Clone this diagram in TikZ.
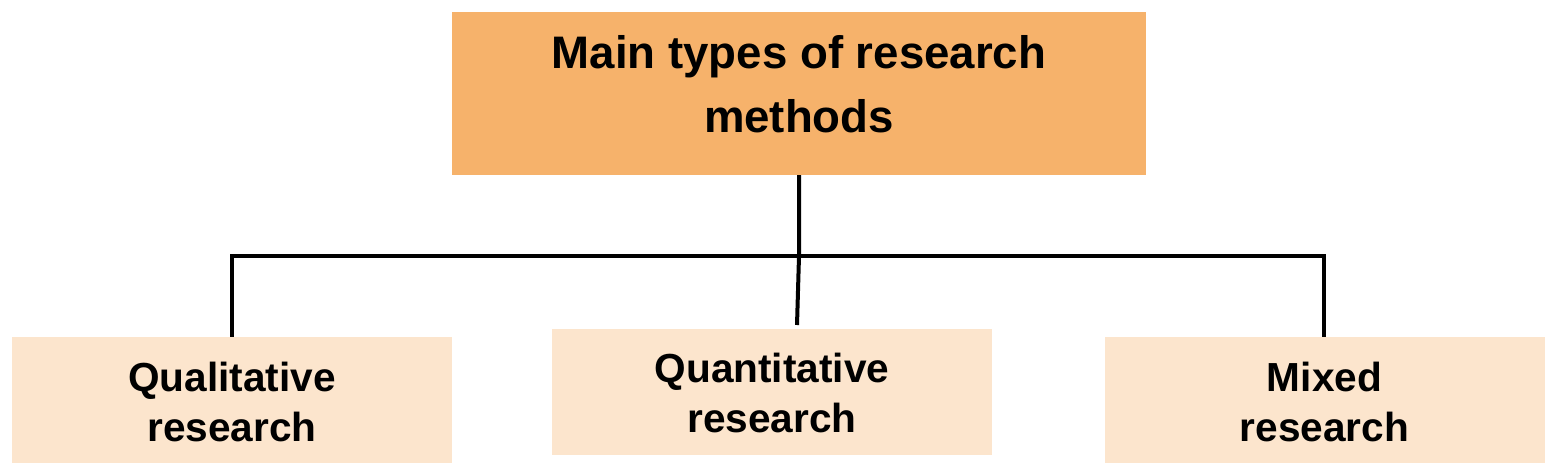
\documentclass[tikz,border=0pt]{standalone}
\usepackage{fontspec}
\setmainfont{Liberation Sans}
\definecolor{topfill}{HTML}{F6B26B}
\definecolor{subfill}{HTML}{FCE5CD}
\begin{document}
\begin{tikzpicture}[x=1pt,y=-1pt,
  topbox/.style={fill=topfill, minimum width=694pt, minimum height=163pt, inner sep=0pt},
  toptext/.style={inner sep=0pt, align=center, font=\fontsize{45.6}{64}\selectfont\bfseries},
  subbox/.style={fill=subfill, minimum width=440pt, minimum height=126pt, inner sep=0pt},
  subtext/.style={inner sep=0pt, align=center, font=\fontsize{40.6}{50}\selectfont\bfseries},
  link/.style={line width=4pt}]
\useasboundingbox (0,0) rectangle (1557,476);
\node[topbox] (top) at (799,93.5) {};
\node[toptext] (toptitle) at ([yshift=9pt]top.center) {Main types of research\\methods};
\node[subbox] (qual) at (232,400) {};
\node[subtext] (qualt) at ([yshift=-2pt]qual.center) {Qualitative\\research};
\node[subbox] (quant) at (772,391.5) {};
\node[subtext] (quantt) at ([yshift=-1pt]quant.center) {Quantitative\\research};
\node[subbox] (mixed) at (1324.5,400) {};
\node[subtext] (mixedt) at ([yshift=-2pt]mixed.center) {Mixed\\research};
\coordinate (jc) at (799,256);
\coordinate (hl) at (232,256);
\coordinate (hr) at (1324,256);
\coordinate (jb) at (797,325);
\draw[link] (qual.north) -- (hl) -- (hr) -- (mixed.north -| hr);
\draw[link] (top.south) -- (jc) -- (jb);
\end{tikzpicture}
\end{document}
